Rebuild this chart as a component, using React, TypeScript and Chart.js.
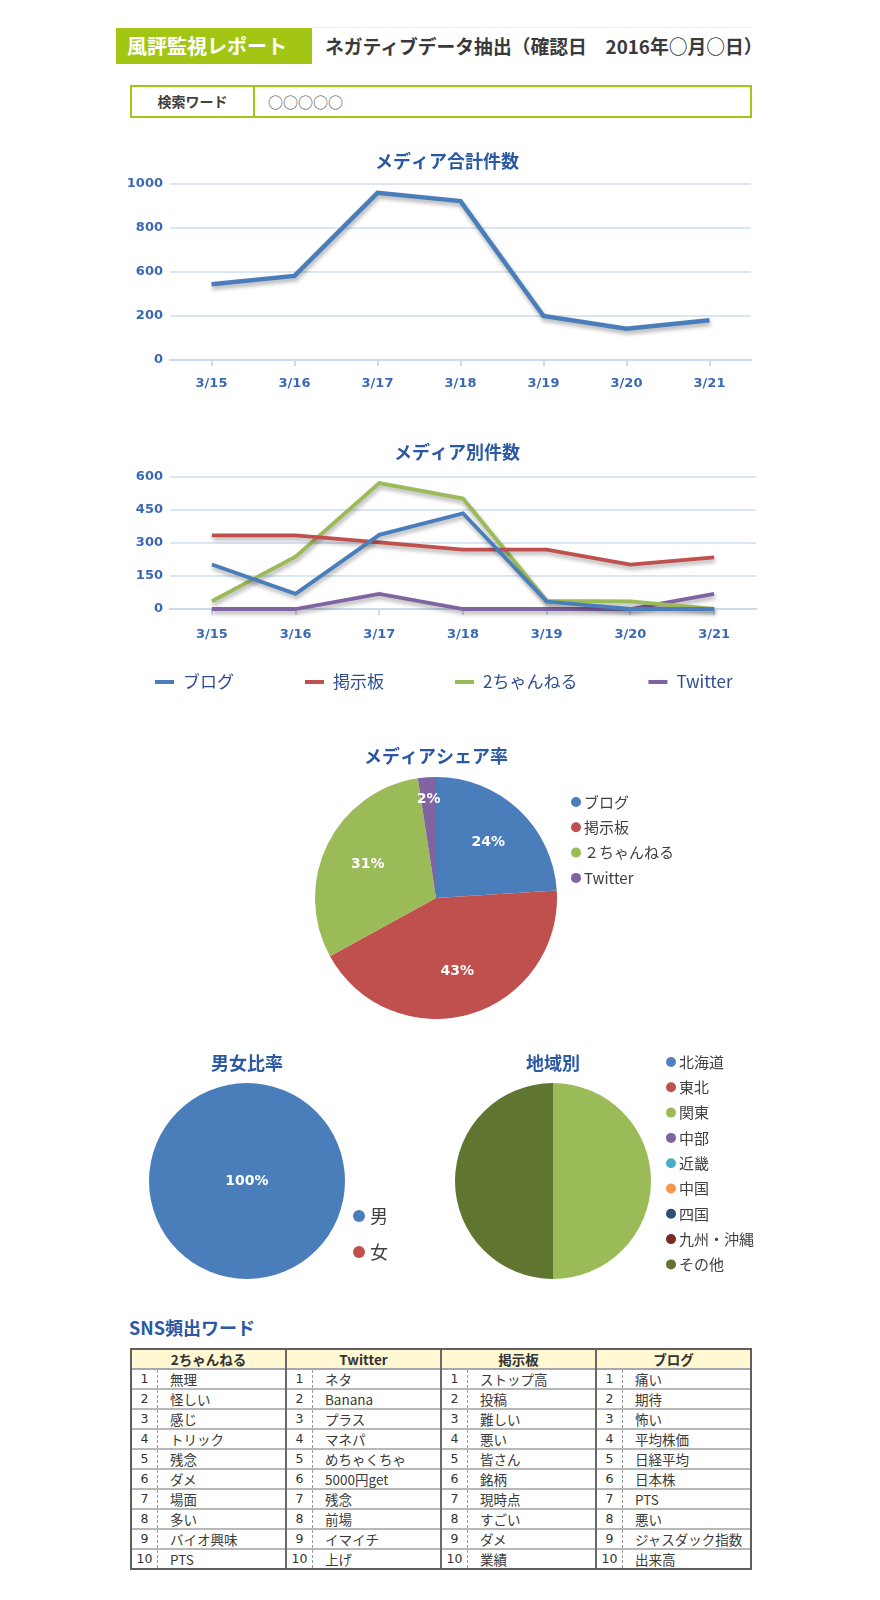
import React, { useEffect, useRef } from 'react';
import { Chart, registerables } from 'chart.js';

Chart.register(...registerables);

const JP = '"Noto Sans CJK JP", "Noto Sans", sans-serif';
const NUM = '"DejaVu Sans", "Noto Sans CJK JP", sans-serif';

// ---------- data ----------
const dates = ['3/15', '3/16', '3/17', '3/18', '3/19', '3/20', '3/21'];
const totalCounts = [430, 478, 950, 903, 250, 178, 226];
const totalTickLabels = ['0', '200', '600', '800', '1000'];

const mediaNames = ['ブログ', '掲示板', '2ちゃんねる', 'Twitter'];
const blogCounts = [202, 69, 337, 435, 34, 0, 0];
const boardCounts = [335, 335, 303, 270, 270, 202, 235];
const chanCounts = [35, 238, 572, 502, 37, 35, 0];
const twitterCounts = [0, 0, 69, 0, 0, 0, 69];

const shareLabels = ['ブログ', '掲示板', '２ちゃんねる', 'Twitter'];
const shareValues = [24, 43, 30.6, 2.4];

const genderLabels = ['男', '女'];
const genderValues = [100, 0];

const regionLabels = ['北海道', '東北', '関東', '中部', '近畿', '中国', '四国', '九州・沖縄', 'その他'];
const regionValues = [0, 0, 1, 0, 0, 0, 0, 0, 1];

const tableHeaders = ['2ちゃんねる', 'Twitter', '掲示板', 'ブログ'];
const chanWords = ['無理', '怪しい', '感じ', 'トリック', '残念', 'ダメ', '場面', '多い', 'バイオ興味', 'PTS'];
const twitterWords = ['ネタ', 'Banana', 'プラス', 'マネパ', 'めちゃくちゃ', '5000円get', '残念', '前場', 'イマイチ', '上げ'];
const boardWords = ['ストップ高', '投稿', '難しい', '悪い', '皆さん', '銘柄', '現時点', 'すごい', 'ダメ', '業績'];
const blogWords = ['痛い', '期待', '怖い', '平均株価', '日経平均', '日本株', 'PTS', '悪い', 'ジャスダック指数', '出来高'];

// ---------- styles ----------
const BLUE = '#4a7ebb';
const RED = '#c0504d';
const GREEN = '#9bbb59';
const PURPLE = '#8064a2';
const REGION_COLORS = ['#4f81bd', '#c0504d', '#9bbb59', '#8064a2', '#4bacc6', '#f79646', '#2c4d75', '#772c2a', '#5f7530'];
const TITLE = '#2b58a3';
const TICK = '#3a68b4';
const GRID = '#dbe6f5';
const AXIS = '#cbdaf0';

// ---------- plugins ----------
const shadowPlugin = {
  id: 'lineShadow',
  beforeDatasetsDraw(chart: any) {
    const c = chart.ctx;
    c.save();
    c.shadowColor = 'rgba(0,0,0,0.32)';
    c.shadowBlur = 4;
    c.shadowOffsetX = 1;
    c.shadowOffsetY = 3;
  },
  afterDatasetsDraw(chart: any) {
    chart.ctx.restore();
  },
};

const posTitlePlugin = {
  id: 'posTitle',
  afterDraw(chart: any, _a: any, o: any) {
    if (!o || !o.text) return;
    const ctx = chart.ctx;
    ctx.save();
    ctx.font = o.fontStr;
    ctx.fillStyle = o.color;
    ctx.textAlign = 'center';
    ctx.textBaseline = 'middle';
    ctx.fillText(o.text, o.x, o.y);
    ctx.restore();
  },
};

const legendPlugin = {
  id: 'customLegend',
  afterDraw(chart: any, _a: any, o: any) {
    if (!o || !o.mode) return;
    const ctx = chart.ctx;
    ctx.save();
    ctx.font = o.fontStr;
    ctx.textBaseline = 'middle';
    ctx.textAlign = 'left';
    if (o.mode === 'line') {
      let x = o.x;
      chart.data.datasets.forEach((ds: any) => {
        ctx.strokeStyle = ds.borderColor;
        ctx.lineWidth = o.lineWidth;
        ctx.beginPath();
        ctx.moveTo(x, o.y);
        ctx.lineTo(x + o.markerW, o.y);
        ctx.stroke();
        ctx.fillStyle = o.color;
        ctx.fillText(ds.label, x + o.textOffset, o.y);
        x += o.textOffset + ctx.measureText(ds.label).width + o.gap;
      });
    } else {
      const ds = chart.data.datasets[0];
      chart.data.labels.forEach((lab: string, i: number) => {
        const y = o.y + i * o.step;
        ctx.fillStyle = ds.backgroundColor[i];
        ctx.beginPath();
        ctx.arc(o.x, y, o.radius, 0, Math.PI * 2);
        ctx.fill();
        ctx.fillStyle = o.color;
        ctx.fillText(lab, o.x + o.textOffset, y);
      });
    }
    ctx.restore();
  },
};

const pieLabelPlugin = {
  id: 'pieLabels',
  afterDatasetsDraw(chart: any, _a: any, o: any) {
    if (!o || !o.show) return;
    const ctx = chart.ctx;
    const meta = chart.getDatasetMeta(0);
    const vals: number[] = chart.data.datasets[0].data;
    const total = vals.reduce((a, b) => a + b, 0);
    ctx.save();
    ctx.font = o.fontStr;
    ctx.fillStyle = '#ffffff';
    ctx.textAlign = 'center';
    ctx.textBaseline = 'middle';
    meta.data.forEach((arc: any, i: number) => {
      const v = vals[i];
      if (!v) return;
      const pct = Math.round((v / total) * 100);
      const p = arc.getProps(['x', 'y', 'startAngle', 'endAngle', 'outerRadius'], true);
      let x = p.x;
      let y = p.y;
      if (pct < 100) {
        const mid = (p.startAngle + p.endAngle) / 2;
        const f = pct < 5 ? 0.82 : 0.63;
        x += Math.cos(mid) * p.outerRadius * f;
        y += Math.sin(mid) * p.outerRadius * f;
      }
      ctx.fillText(pct + '%', x, y);
    });
    ctx.restore();
  },
};

const tickFont = { family: NUM, size: 13, weight: 'bold' as const };
const titleFont = { family: JP, size: 18, weight: 'bold' as const };

function lineScales(max: number, step: number, xPad: number, labels?: string[]) {
  return {
    x: {
      offset: true,
      grid: { drawOnChartArea: false, drawTicks: true, tickLength: 6, color: AXIS, lineWidth: 2 },
      border: { display: true, color: AXIS, width: 2 },
      ticks: { color: TICK, font: tickFont, padding: xPad, maxRotation: 0 },
    },
    y: {
      min: 0,
      max,
      afterFit: (s: any) => {
        s.width = 60;
      },
      grid: { color: GRID, lineWidth: 2, drawTicks: false },
      border: { display: false },
      ticks: {
        stepSize: step,
        padding: 7,
        color: TICK,
        font: tickFont,
        callback: (v: any, i: number) => (labels ? labels[i] : String(v)),
      },
    },
  };
}

function makeTotalChart(): any {
  return {
    type: 'line',
    data: {
      labels: dates,
      datasets: [
        { label: 'メディア合計件数', data: totalCounts, borderColor: BLUE, borderWidth: 4.5, pointRadius: 0, tension: 0, fill: false, clip: 10 },
      ],
    },
    options: {
      responsive: false,
      animation: false,
      layout: { padding: { left: 0, right: 19, top: 44, bottom: 3.4 } },
      plugins: {
        legend: { display: false },
        tooltip: { enabled: false },
        title: { display: false },
        posTitle: { text: 'メディア合計件数', x: 337, y: 21, fontStr: `bold 18px ${JP}`, color: TITLE },
      },
      scales: lineScales(1000, 250, 10, totalTickLabels),
    },
    plugins: [shadowPlugin, posTitlePlugin],
  };
}

function makeMediaChart(): any {
  const series = [blogCounts, boardCounts, chanCounts, twitterCounts];
  const colors = [BLUE, RED, GREEN, PURPLE];
  return {
    type: 'line',
    data: {
      labels: dates,
      datasets: mediaNames.map((n, i) => ({
        label: n,
        data: series[i],
        borderColor: colors[i],
        borderWidth: 3.8,
        pointRadius: 0,
        tension: 0,
        fill: false,
        clip: 10,
      })),
    },
    options: {
      responsive: false,
      animation: false,
      layout: { padding: { left: 0, right: 14, top: 57, bottom: 40.4 } },
      plugins: {
        legend: { display: false },
        tooltip: { enabled: false },
        title: { display: false },
        posTitle: { text: 'メディア別件数', x: 347, y: 32, fontStr: `bold 18px ${JP}`, color: TITLE },
        customLegend: { mode: 'line', x: 45, y: 262, markerW: 19, textOffset: 28, gap: 71, lineWidth: 4, fontStr: `17px ${JP}`, color: '#2f4e8c' },
      },
      scales: lineScales(600, 150, 12),
    },
    plugins: [shadowPlugin, posTitlePlugin, legendPlugin],
  };
}

function makePie(
  title: string,
  labels: string[],
  values: number[],
  colors: string[],
  pad: { left: number; right: number; bottom: number },
  titlePad: { top: number; bottom: number },
  legend: any,
  labelFont: string | null
): any {
  return {
    type: 'pie',
    data: {
      labels,
      datasets: [{ data: values, backgroundColor: colors, borderWidth: 0 }],
    },
    options: {
      responsive: false,
      animation: false,
      layout: { padding: { left: pad.left, right: pad.right, top: 0, bottom: pad.bottom } },
      plugins: {
        legend: { display: false },
        tooltip: { enabled: false },
        title: { display: true, text: title, color: TITLE, font: titleFont, padding: titlePad },
        customLegend: legend,
        pieLabels: { show: !!labelFont, fontStr: labelFont || '' },
      },
    },
    plugins: [legendPlugin, pieLabelPlugin],
  };
}

function ChartBox({ left, top, width, height, make }: { left: number; top: number; width: number; height: number; make: () => any }) {
  const ref = useRef<HTMLCanvasElement | null>(null);
  useEffect(() => {
    if (!ref.current) return;
    const chart = new Chart(ref.current, make());
    return () => chart.destroy();
  }, []);
  return (
    <canvas
      ref={ref}
      width={width}
      height={height}
      style={{ position: 'absolute', left, top, width, height, display: 'block' }}
    />
  );
}

export default function App() {
  const tableWords = [chanWords, twitterWords, boardWords, blogWords];
  return (
    <div style={{ position: 'absolute', left: 0, top: 0, width: 880, height: 1600, background: '#ffffff', fontFamily: JP, overflow: 'hidden' }}>
      {/* header */}
      <div style={{ position: 'absolute', left: 312, top: 27, width: 440, height: 1, background: '#efefe6' }} />
      <div
        style={{
          position: 'absolute',
          left: 116,
          top: 28,
          width: 196,
          height: 36,
          background: '#a3c614',
          color: '#ffffff',
          fontWeight: 'bold',
          fontSize: 20,
          lineHeight: '36px',
          paddingLeft: 11,
          boxSizing: 'border-box',
        }}
      >
        風評監視レポート
      </div>
      <div style={{ position: 'absolute', left: 325, top: 28, height: 36, lineHeight: '36px', fontWeight: 'bold', fontSize: 18.8, color: '#3a3a3a', whiteSpace: 'nowrap' }}>
        ネガティブデータ抽出（確認日　2016年○月○日）
      </div>
      <div
        style={{
          position: 'absolute',
          left: 130,
          top: 85,
          width: 622,
          height: 33,
          border: '2px solid #a3c614',
          boxSizing: 'border-box',
          display: 'flex',
        }}
      >
        <div style={{ width: 121, borderRight: '2px solid #a3c614', textAlign: 'center', lineHeight: '29px', fontWeight: 'bold', fontSize: 14, color: '#404040' }}>検索ワード</div>
        <div style={{ paddingLeft: 13, lineHeight: '29px', fontSize: 15, color: '#505050' }}>○○○○○</div>
      </div>

      <ChartBox left={110} top={140} width={660} height={265} make={makeTotalChart} />
      <ChartBox left={110} top={420} width={660} height={275} make={makeMediaChart} />
      <ChartBox
        left={305}
        top={730}
        width={395}
        height={300}
        make={() =>
          makePie(
            'メディアシェア率',
            shareLabels,
            shareValues,
            [BLUE, RED, GREEN, PURPLE],
            { left: 10, right: 143, bottom: 11 },
            { top: 15.2, bottom: 10.2 },
            { mode: 'dot', x: 271, y: 72, step: 25.3, radius: 5, textOffset: 8, fontStr: `15px ${JP}`, color: '#404040' },
            `bold 14px ${NUM}`
          )
        }
      />
      <ChartBox
        left={139}
        top={1040}
        width={261}
        height={250}
        make={() =>
          makePie(
            '男女比率',
            genderLabels,
            genderValues,
            [BLUE, RED],
            { left: 10, right: 55, bottom: 11 },
            { top: 12.2, bottom: 9.2 },
            { mode: 'dot', x: 220, y: 176, step: 36, radius: 6, textOffset: 11, fontStr: `18px ${JP}`, color: '#404040' },
            `bold 14px ${NUM}`
          )
        }
      />
      <ChartBox
        left={445}
        top={1040}
        width={325}
        height={250}
        make={() =>
          makePie(
            '地域別',
            regionLabels,
            regionValues,
            REGION_COLORS,
            { left: 10, right: 119, bottom: 11 },
            { top: 12.2, bottom: 9.2 },
            { mode: 'dot', x: 226, y: 22, step: 25.3, radius: 5, textOffset: 8, fontStr: `15px ${JP}`, color: '#404040' },
            null
          )
        }
      />

      {/* SNS table */}
      <div style={{ position: 'absolute', left: 129, top: 1316, fontWeight: 'bold', fontSize: 18, lineHeight: '22px', color: TITLE }}>SNS頻出ワード</div>
      <div
        style={{
          position: 'absolute',
          left: 130,
          top: 1348,
          width: 622,
          height: 222,
          border: '2px solid #5f5f5f',
          boxSizing: 'border-box',
          display: 'flex',
          background: '#ffffff',
        }}
      >
        {tableHeaders.map((h, c) => (
          <div key={c} style={{ flex: 1, minWidth: 0, borderLeft: c ? '2px solid #6a6a6a' : 'none', display: 'flex', flexDirection: 'column' }}>
            <div
              style={{
                height: 18,
                lineHeight: '18px',
                background: '#fff8d2',
                textAlign: 'center',
                fontWeight: 'bold',
                fontSize: 13.5,
                color: '#333333',
                borderBottom: '2px solid #a8a8a8',
              }}
            >
              {h}
            </div>
            {tableWords[c].map((w, r) => (
              <div key={r} style={{ height: 18, display: 'flex', borderBottom: r < 9 ? '2px solid #b8b8b8' : 'none' }}>
                <div
                  style={{
                    width: 25,
                    flex: '0 0 25px',
                    textAlign: 'center',
                    borderRight: '1px dashed #999999',
                    fontFamily: NUM,
                    fontSize: 12.5,
                    lineHeight: '18px',
                    color: '#333333',
                  }}
                >
                  {r + 1}
                </div>
                <div style={{ paddingLeft: 12, fontSize: 13.5, lineHeight: '18px', color: '#3a3a3a', whiteSpace: 'nowrap' }}>{w}</div>
              </div>
            ))}
          </div>
        ))}
      </div>
    </div>
  );
}
